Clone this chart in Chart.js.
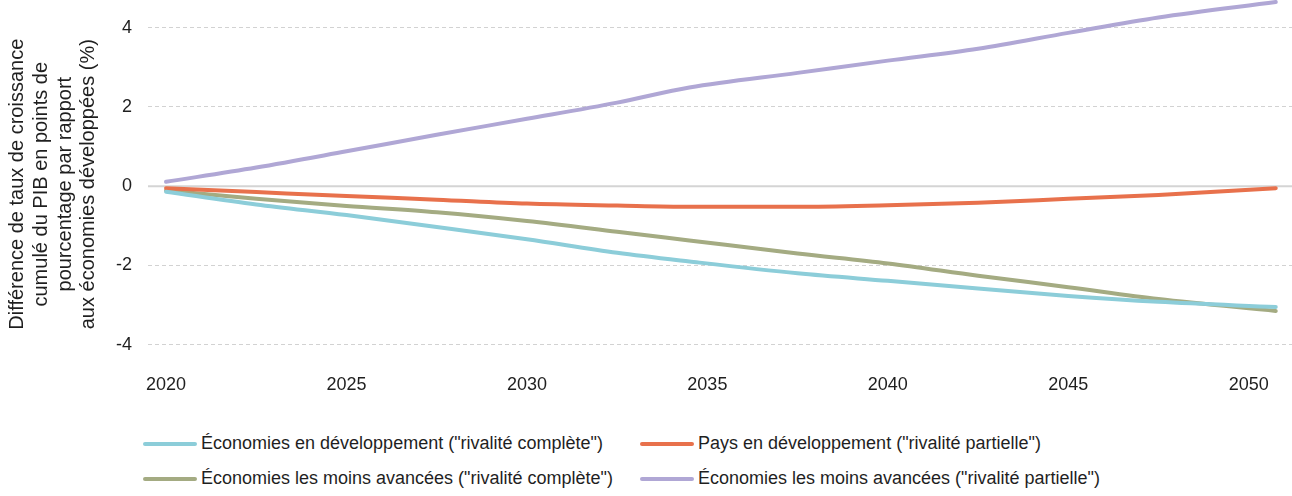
<!DOCTYPE html>
<html lang="fr">
<head>
<meta charset="utf-8">
<script src="https://cdn.jsdelivr.net/npm/chart.js@4/dist/chart.umd.min.js"></script>
<style>
  html, body { margin: 0; padding: 0; background: #fff; }
  body { width: 1292px; height: 496px; overflow: hidden; font-family: "Liberation Sans", Arial, sans-serif; color: #1f1f1f; }
  #wrap { position: relative; width: 1292px; height: 402px; }
  #legend { position: absolute; left: 143px; top: 426px; display: grid; grid-template-columns: 497px auto; }
  .item { display: flex; align-items: center; height: 35px; font-size: 18px; white-space: nowrap; }
  .swatch { width: 54px; height: 4px; border-radius: 2px; margin-right: 4px; }
</style>
</head>
<body>
<div id="wrap"><canvas id="chart"></canvas></div>
<div id="legend"></div>
<script>
// years (last point is end of 2050)
const years = [2020, 2022.5, 2025, 2027.5, 2030, 2032.5, 2034.5, 2037.5, 2040, 2042.5, 2045, 2047.5, 2050.75];

const devFull     = [-0.14, -0.46, -0.73, -1.03, -1.34, -1.68, -1.90, -2.20, -2.39, -2.58, -2.77, -2.92, -3.05];
const devPartial  = [-0.05, -0.15, -0.25, -0.34, -0.44, -0.49, -0.52, -0.52, -0.48, -0.42, -0.32, -0.22, -0.05];
const ldcFull     = [-0.11, -0.32, -0.50, -0.66, -0.88, -1.15, -1.37, -1.70, -1.95, -2.26, -2.55, -2.85, -3.15];
const ldcPartial  = [0.11, 0.47, 0.88, 1.30, 1.70, 2.11, 2.49, 2.86, 3.17, 3.47, 3.87, 4.26, 4.65];

const seriesLabels = [
  'Économies en développement ("rivalité complète")',
  'Pays en développement ("rivalité partielle")',
  'Économies les moins avancées ("rivalité complète")',
  'Économies les moins avancées ("rivalité partielle")'
];
const seriesColors = ['#8ccdd9', '#e8714c', '#a4ab82', '#b0a7d5'];
const seriesValues = [devFull, devPartial, ldcFull, ldcPartial];

const xTicks = [2020, 2025, 2030, 2035, 2040, 2045, 2050];
const yTicks = [-4, -2, 0, 2, 4];
const yTitle = [
  'Différence de taux de croissance',
  'cumulé du PIB en points de',
  'pourcentage par rapport',
  'aux économies développées (%)'
];

const family = '"Liberation Sans", Arial, sans-serif';
const tickFont = { family, size: 18 };

// solid line at 0, the other grid lines are dashed
const zeroLine = {
  id: 'zeroLine',
  beforeDatasetsDraw(chart) {
    const { ctx, chartArea, scales } = chart;
    const y = scales.y.getPixelForValue(0);
    ctx.save();
    ctx.strokeStyle = '#d4d4d4';
    ctx.lineWidth = 2;
    ctx.beginPath();
    ctx.moveTo(chartArea.left, y);
    ctx.lineTo(chartArea.right, y);
    ctx.stroke();
    ctx.restore();
  }
};

const noPad = scale => {
  scale.paddingTop = 0;
  scale.paddingBottom = 0;
  scale.paddingLeft = 0;
  scale.paddingRight = 0;
};

const chart = new Chart(document.getElementById('chart'), {
  type: 'line',
  data: {
    datasets: seriesValues.map((vals, i) => ({
      label: seriesLabels[i],
      data: vals.map((v, j) => ({ x: years[j], y: v })),
      borderColor: seriesColors[i],
      backgroundColor: seriesColors[i],
      borderWidth: 4,
      borderCapStyle: 'round',
      pointRadius: 0,
      tension: 0.3,
      cubicInterpolationMode: 'monotone',
      clip: false
    }))
  },
  options: {
    responsive: true,
    maintainAspectRatio: false,
    animation: false,
    layout: { padding: 0 },
    plugins: {
      legend: { display: false },
      tooltip: { enabled: false }
    },
    scales: {
      x: {
        type: 'linear',
        min: 2019.5,
        max: 2051.2,
        afterBuildTicks: axis => { axis.ticks = xTicks.map(v => ({ value: v })); },
        afterFit: noPad,
        grid: { display: false, drawTicks: false },
        border: { display: false },
        ticks: { color: '#1f1f1f', font: tickFont, padding: 6, maxRotation: 0, callback: v => String(v) }
      },
      y: {
        min: -4.6,
        max: 4.7,
        afterBuildTicks: axis => { axis.ticks = yTicks.map(v => ({ value: v })); },
        afterFit: scale => { noPad(scale); scale.width = 148; },
        grid: {
          drawTicks: false,
          lineWidth: 1,
          color: c => c.tick && c.tick.value === 0 ? 'rgba(0,0,0,0)' : '#d2d2d2'
        },
        border: { display: false, dash: [4, 3] },
        ticks: { color: '#1f1f1f', font: tickFont, padding: 16, callback: v => String(v) },
        title: {
          display: true,
          text: yTitle,
          color: '#1f1f1f',
          font: { family, size: 20, lineHeight: 1.18 },
          padding: { top: 6, bottom: 0 }
        }
      }
    }
  },
  plugins: [zeroLine]
});

// legend built from the datasets, two columns
const legend = document.getElementById('legend');
chart.data.datasets.forEach(ds => {
  const item = document.createElement('div');
  item.className = 'item';
  item.innerHTML = `<span class="swatch" style="background:${ds.borderColor}"></span><span></span>`;
  item.lastChild.textContent = ds.label;
  legend.appendChild(item);
});
</script>
</body>
</html>
